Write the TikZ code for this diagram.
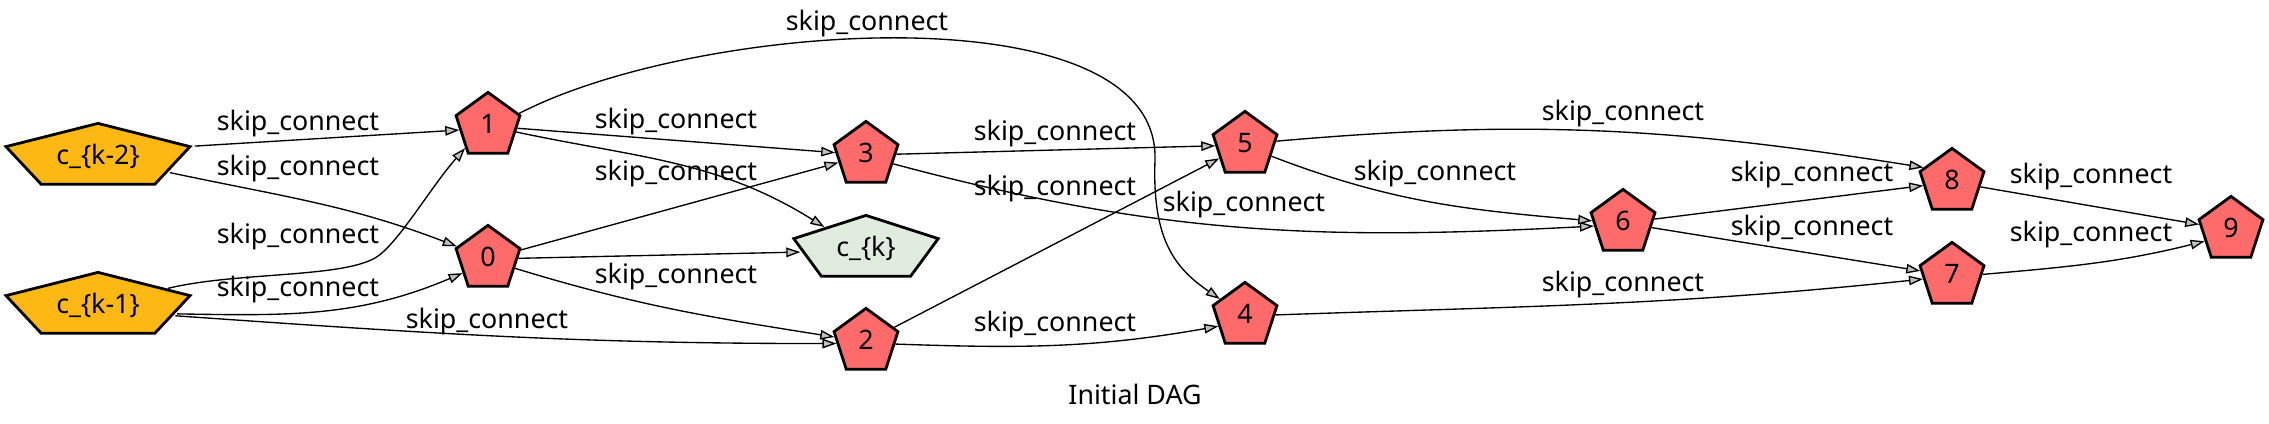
\documentclass[tikz,border=0pt]{standalone}
\usepackage{fontspec}
\setmainfont{Noto Sans}
\usetikzlibrary{shapes.geometric,arrows.meta}
\definecolor{opred}{RGB}{255,106,106}
\definecolor{inorange}{RGB}{253,184,19}
\definecolor{outgreen}{RGB}{223,236,222}
\definecolor{tipgray}{RGB}{192,192,192}
\newcommand{\dagfont}{\fontsize{26.8}{30}\selectfont}
\begin{document}
\begin{tikzpicture}[x=1pt,y=1pt,
  opnode/.style={regular polygon, regular polygon sides=5, minimum size=67.2pt, inner sep=0pt,
    draw=black, line width=2.8pt, fill=opred, font=\dagfont, text height=14pt, text depth=0pt},
  widenode/.style={regular polygon, regular polygon sides=5, minimum size=67.2pt, inner sep=0pt,
    draw=black, line width=2.8pt, transform shape},
  nodetext/.style={font=\dagfont, text height=14pt, text depth=0pt, inner sep=0pt},
  lbl/.style={font=\dagfont, anchor=base, inner sep=0pt, yshift=-3pt},
  edge/.style={line width=1.35pt, draw=black, -{Triangle[length=14pt,width=9.5pt,fill=tipgray]}},
]
\fill[white] (0,0) rectangle (2269,-423);
\useasboundingbox (0,0) rectangle (2269,-423);

% wide input / output nodes
\begin{scope}[shift={(98,-157)}, xscale=2.88]
  \node[widenode, fill=inorange] (ck2) at (0,0) {};
\end{scope}
\begin{scope}[shift={(98,-306)}, xscale=2.88]
  \node[widenode, fill=inorange] (ck1) at (0,0) {};
\end{scope}
\begin{scope}[shift={(866,-249)}, xscale=2.26]
  \node[widenode, fill=outgreen] (ck) at (0,0) {};
\end{scope}
\node[nodetext] (ck2t) at (ck2.center) {c\_\{k-2\}};
\node[nodetext] (ck1t) at (ck1.center) {c\_\{k-1\}};
\node[nodetext] (ckt) at (ck.center) {c\_\{k\}};

% operation nodes
\node[opnode] (n1) at (488,-126) {1};
\node[opnode] (n0) at (488,-259) {0};
\node[opnode] (n3) at (866,-155) {3};
\node[opnode] (n2) at (866,-342) {2};
\node[opnode] (n5) at (1245,-145) {5};
\node[opnode] (n4) at (1245,-316) {4};
\node[opnode] (n6) at (1623,-223) {6};
\node[opnode] (n8) at (1952,-182) {8};
\node[opnode] (n7) at (1952,-276) {7};
\node[opnode] (n9) at (2231,-230) {9};

% edges
\draw[edge] (ck2.corner 5) -- (n1.188);
\draw[edge] (ck2.-32) to[out=-12, in=159] (n0.158);
\draw[edge] (ck1.36) .. controls (235,-272) and (340,-278) .. (375,-258)
            .. controls (397,-245.5) and (430,-188) .. (n1.224);
\draw[edge] (ck1.-16) to[out=-1, in=-157] (n0.209);
\draw[edge] (ck1.-20) to[out=-4, in=180] (n2.183);
\draw[edge] (n1) -- (n3);
\draw[edge] (n1.22) .. controls (700,-20) and (1160,10) .. (1155,-160)
            .. controls (1152,-240) and (1175,-268) .. (n4.146);
\draw[edge] (n1.-12) to[out=-12, in=148] (ck.130);
\draw[edge] (n0) -- (n3);
\draw[edge] (n0) -- (ck.186);
\draw[edge] (n0.-19) to[out=-17, in=171] (n2.171);
\draw[edge] (n3) -- (n5);
\draw[edge] (n3.-18) to[out=-15, in=183] (n6.186);
\draw[edge] (n2) -- (n5);
\draw[edge] (n2.-4) to[out=-2, in=190] (n4.201);
\draw[edge] (n5.7) to[out=5, in=171] (n8.153);
\draw[edge] (n5.-23) to[out=-21, in=175] (n6.176);
\draw[edge] (n4.2) to[out=2, in=186] (n7.186);
\draw[edge] (n6) -- (n8);
\draw[edge] (n6) -- (n7);
\draw[edge] (n8) -- (n9);
\draw[edge] (n7.3) to[out=5, in=194] (n9.203);

% edge labels
\node[lbl] (l14) at (867,-27) {skip\_connect};
\node[lbl] (la1) at (298,-127) {skip\_connect};
\node[lbl] (la0) at (298,-172) {skip\_connect};
\node[lbl] (lb1) at (298,-240) {skip\_connect};
\node[lbl] (lb0) at (298,-293) {skip\_connect};
\node[lbl] (lb2) at (487,-325) {skip\_connect};
\node[lbl] (l13) at (676,-125) {skip\_connect};
\node[lbl] (l03) at (676,-177) {skip\_connect};
\node[lbl] (l02) at (676,-280) {skip\_connect};
\node[lbl] (l35) at (1055,-137) {skip\_connect};
\node[lbl] (l25) at (1055,-192) {skip\_connect};
\node[lbl] (l36) at (1244,-208) {skip\_connect};
\node[lbl] (l24) at (1055,-328) {skip\_connect};
\node[lbl] (l56) at (1435,-177) {skip\_connect};
\node[lbl] (l58) at (1623,-117) {skip\_connect};
\node[lbl] (l47) at (1623,-288) {skip\_connect};
\node[lbl] (l68) at (1812,-178) {skip\_connect};
\node[lbl] (l67) at (1812,-232) {skip\_connect};
\node[lbl] (l89) at (2091,-180) {skip\_connect};
\node[lbl] (l79) at (2091,-238) {skip\_connect};

\node[lbl, yshift=2pt] (title) at (1135,-403) {Initial DAG};
\end{tikzpicture}
\end{document}
